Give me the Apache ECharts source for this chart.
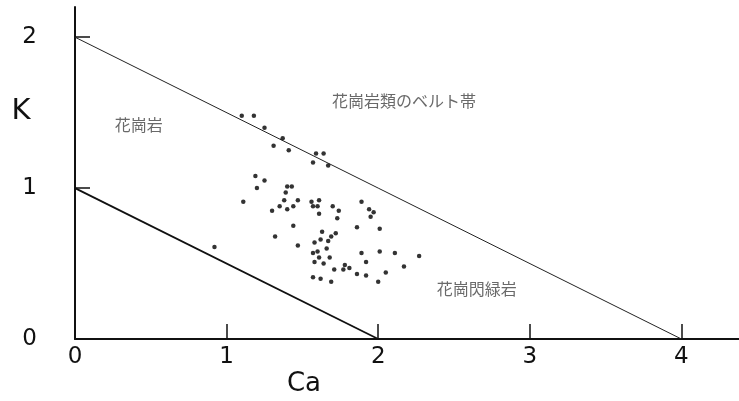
<!DOCTYPE html>
<html>
<head>
<meta charset="utf-8">
<script src="https://cdn.jsdelivr.net/npm/echarts@6/dist/echarts.min.js"></script>
<style>html,body{margin:0;padding:0;background:#fff}#c{width:739px;height:401px}</style>
</head>
<body>
<div id="c"></div>
<script>
// Sample points: Ca (x) and K (y)
var caValues = [1.10,1.18,1.25,1.37,1.31,1.41,1.59,1.64,1.57,1.67,
  1.19,1.25,1.20,1.40,1.43,1.39,1.11,1.38,1.47,1.35,
  1.44,1.30,1.40,1.56,1.61,1.57,1.60,1.61,1.70,1.74,
  1.73,1.44,1.63,1.72,1.69,1.62,1.32,1.47,1.67,1.58,
  1.60,1.57,1.66,1.61,1.68,1.58,1.64,1.71,1.57,1.62,
  1.69,1.89,1.94,1.97,1.95,1.86,2.01,1.89,2.01,2.11,
  2.27,1.92,1.78,1.81,1.77,2.17,2.05,1.86,1.92,2.00,0.92];
var kValues = [1.48,1.48,1.40,1.33,1.28,1.25,1.23,1.23,1.17,1.15,
  1.08,1.05,1.00,1.01,1.01,0.97,0.91,0.92,0.92,0.88,
  0.88,0.85,0.86,0.91,0.92,0.88,0.88,0.83,0.88,0.85,
  0.80,0.75,0.71,0.70,0.68,0.66,0.68,0.62,0.65,0.64,
  0.58,0.57,0.60,0.54,0.54,0.51,0.50,0.46,0.41,0.40,
  0.38,0.91,0.86,0.84,0.81,0.74,0.73,0.57,0.58,0.57,
  0.55,0.51,0.49,0.47,0.46,0.48,0.44,0.43,0.42,0.38,0.61];
// Boundary lines
var outerLine = [[0, 2], [4, 0]];
var innerLine = [[0, 1], [2, 0]];
// Region labels
var regionNames = ['花崗岩', '花崗岩類のベルト帯', '花崗閃緑岩'];
var regionCa = [0.42, 2.17, 2.65];
var regionK = [1.42, 1.58, 0.33];
// Ticks
var xTickLabels = [0, 1, 2, 3, 4];
var yTickLabels = [0, 1, 2];

var points = caValues.map(function (c, i) { return [c, kValues[i]]; });
var regions = regionNames.map(function (n, i) { return { name: n, value: [regionCa[i], regionK[i]] }; });

var chart = echarts.init(document.getElementById('c'));
var numFont = 'DejaVu Sans';
chart.setOption({
  animation: false,
  backgroundColor: '#fff',
  grid: { left: 75, right: 0, top: 7, bottom: 62 },
  xAxis: {
    type: 'value', min: 0, max: 4.38,
    splitLine: { show: false },
    axisLine: { show: true, onZero: false, lineStyle: { color: '#111', width: 2 } },
    axisTick: { show: true, inside: true, length: 15, customValues: [1, 2, 3, 4], lineStyle: { color: '#111', width: 1.5 } },
    axisLabel: { customValues: xTickLabels, margin: 7, color: '#111', fontSize: 23, fontFamily: numFont }
  },
  yAxis: {
    type: 'value', min: 0, max: 2.2,
    splitLine: { show: false },
    axisLine: { show: true, onZero: false, lineStyle: { color: '#111', width: 2 } },
    axisTick: { show: true, inside: true, length: 15, customValues: [1, 2], lineStyle: { color: '#111', width: 1.5 } },
    axisLabel: { customValues: yTickLabels, margin: 38, color: '#111', fontSize: 23, fontFamily: numFont }
  },
  graphic: [
    { type: 'text', x: 21, y: 111, style: { text: 'K', fontSize: 29, fontFamily: numFont, fill: '#111', textAlign: 'center', textVerticalAlign: 'middle' } },
    { type: 'text', x: 304, y: 384, style: { text: 'Ca', fontSize: 26, fontFamily: numFont, fill: '#111', textAlign: 'center', textVerticalAlign: 'middle' } }
  ],
  series: [
    { type: 'line', data: outerLine, symbol: 'none', lineStyle: { color: '#222', width: 1 }, silent: true },
    { type: 'line', data: innerLine, symbol: 'none', lineStyle: { color: '#111', width: 1.8 }, silent: true },
    { type: 'scatter', data: points, symbolSize: 4.5, itemStyle: { color: '#000' } },
    { type: 'scatter', data: regions, symbolSize: 0,
      label: { show: true, position: 'inside', formatter: '{b}', fontSize: 16, color: '#444', fontFamily: 'Noto Sans CJK JP' } }
  ]
});
</script>
</body>
</html>
